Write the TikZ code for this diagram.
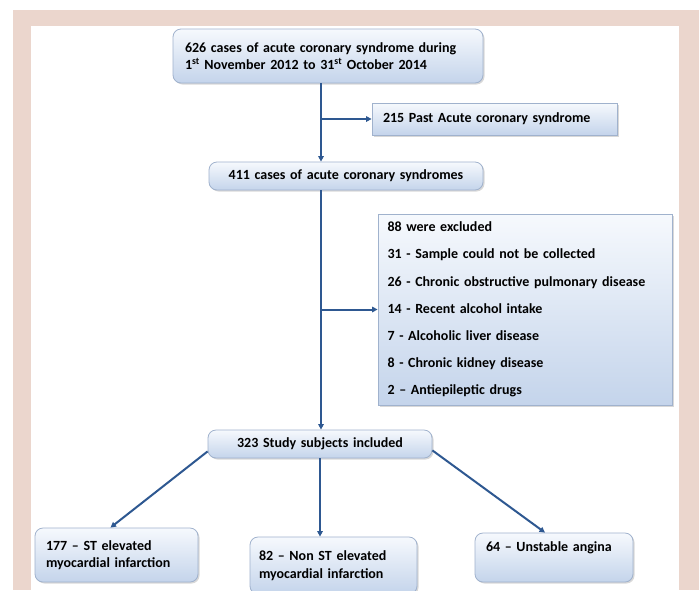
\documentclass[tikz,border=0pt]{standalone}
\usepackage{fontspec}
\setmainfont{Carlito}
\usetikzlibrary{arrows.meta,shadows}
\definecolor{pinkbg}{RGB}{235,214,205}
\definecolor{boxtop}{RGB}{246,249,253}
\definecolor{boxbot}{RGB}{196,212,235}
\definecolor{boxedge}{RGB}{160,178,205}
\definecolor{linkblue}{RGB}{46,88,145}
\tikzset{
  box/.style={draw=boxedge, line width=0.8pt, top color=boxtop, bottom color=boxbot,
    inner sep=0pt, font=\fontsize{14}{17.5}\selectfont\bfseries,
    drop shadow={shadow xshift=1.5pt, shadow yshift=-1.5pt, opacity=0.3, fill=gray}},
  rbox/.style={box, rounded corners=8pt},
  link/.style={draw=linkblue, line width=2pt, -{Triangle[length=5.5pt,width=5.5pt]}}
}
\begin{document}
\begin{tikzpicture}[x=1pt,y=-1pt]
\useasboundingbox (0,0) rectangle (699,590);
\fill[white] (0,0) rectangle (699,590);
\fill[pinkbg] (13,10) rectangle (699,590);
\fill[white] (31,26) rectangle (679,590);

\node[rbox, minimum width=310pt, minimum height=54pt, text width=286pt, align=left] (b1) at (328,56)
  {626 cases of acute coronary syndrome during\\1\textsuperscript{st} November 2012 to 31\textsuperscript{st} October 2014};
\node[box, minimum width=245pt, minimum height=32pt, text width=223pt, align=left] (b2) at (494.5,119)
  {215 Past Acute coronary syndrome};
\node[rbox, minimum width=274pt, minimum height=28pt, text width=274pt, align=center] (b3) at (346,176)
  {411 cases of acute coronary syndromes};
\node[box, minimum width=294pt, minimum height=191pt, text width=275pt, align=left,
  font=\fontsize{14}{27.2}\selectfont\bfseries] (b4) at (525,309.5)
  {88 were excluded\\
   31 - Sample could not be collected\\
   26 - Chronic obstructive pulmonary disease\\
   14 - Recent alcohol intake\\
   7 - Alcoholic liver disease\\
   8 - Chronic kidney disease\\
   2 -- Antiepileptic drugs};
\node[rbox, minimum width=224pt, minimum height=28pt, text width=224pt, align=center] (b5) at (320,444)
  {323 Study subjects included};
\node[rbox, minimum width=163pt, minimum height=54pt, text width=141pt, align=left] (b6) at (116.5,555)
  {177 -- ST elevated\\myocardial infarction};
\node[rbox, minimum width=167pt, minimum height=57pt, text width=149pt, align=left] (b7) at (333.5,565.5)
  {82 -- Non ST elevated\\myocardial infarction};
\node[rbox, minimum width=158pt, minimum height=49pt, text width=136pt, align=left] (b8) at (554,557.5)
  {64 -- Unstable angina\\[0pt]\strut};

\coordinate (spine) at (321,0);
\draw[link] (b1.south -| spine) -- (b3.north -| spine);
\draw[link] (spine |- b2.west) -- (b2.west);
\draw[link] (b3.south -| spine) -- (b5.north -| spine);
\draw[link] (spine |- b4.west) -- (b4.west);
\draw[link] ([yshift=7pt]b5.south west) -- ([xshift=-6pt]b6.north);
\draw[link] (b5.south) -- (b7.north -| b5.south);
\draw[link] ([yshift=8pt]b5.south east) -- ([xshift=-9pt]b8.north);
\end{tikzpicture}
\end{document}
